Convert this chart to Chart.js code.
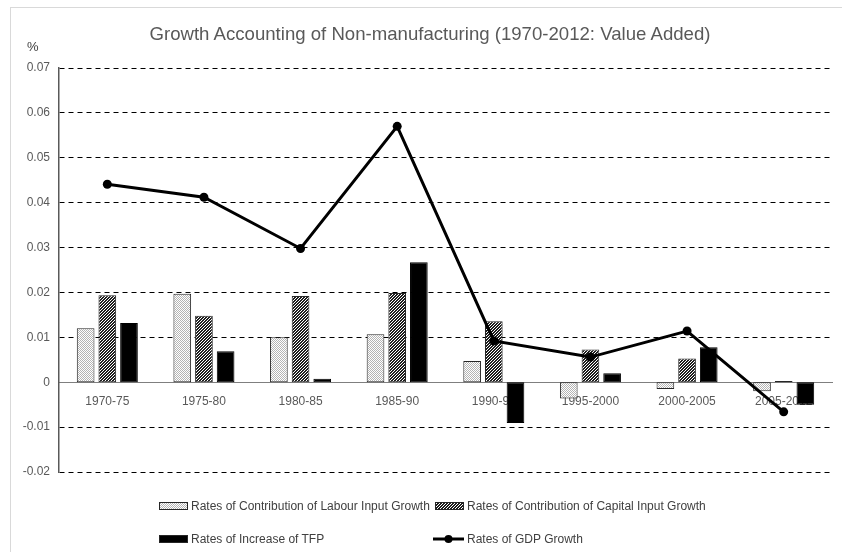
<!DOCTYPE html>
<html>
<head>
<meta charset="utf-8">
<script src="https://cdn.jsdelivr.net/npm/chart.js@4/dist/chart.umd.min.js"></script>
<style>
  html, body { margin: 0; padding: 0; background: #fff; }
  #wrap { position: relative; width: 842px; height: 552px; overflow: hidden; font-family: "Liberation Sans", Arial, sans-serif; }
  #frame { position: absolute; left: 10px; top: 7px; width: 900px; height: 600px; border-top: 1px solid #d9d9d9; border-left: 1px solid #d9d9d9; }
  #title { position: absolute; left: 0; width: 860px; top: 23px; text-align: center; font-size: 18.6px; color: #595959; }
  #unit { position: absolute; left: 27px; top: 39px; font-size: 13px; color: #404040; }
  .leg { position: absolute; font-size: 12px; color: #404040; white-space: nowrap; display: flex; align-items: center; }
  .leg canvas { margin-right: 3px; }
</style>
</head>
<body>
<div id="wrap">
  <div id="frame"></div>
  <canvas id="chart" width="842" height="552"></canvas>
  <div id="title">Growth Accounting of Non-manufacturing (1970-2012: Value Added)</div>
  <div id="unit">%</div>
  <div class="leg" style="left:159px; top:499px;"><canvas id="swLabour" width="29" height="8"></canvas>Rates of Contribution of Labour Input Growth</div>
  <div class="leg" style="left:435px; top:499px;"><canvas id="swCapital" width="29" height="8"></canvas>Rates of Contribution of Capital Input Growth</div>
  <div class="leg" style="left:159px; top:532px;"><canvas id="swTfp" width="29" height="8"></canvas>Rates of Increase of TFP</div>
  <div class="leg" style="left:433px; top:532px;"><canvas id="swGdp" width="31" height="10"></canvas>Rates of GDP Growth</div>
</div>
<script>
const periods = ['1970-75', '1975-80', '1980-85', '1985-90', '1990-95', '1995-2000', '2000-2005', '2005-2012'];
const labourGrowth = [0.0120, 0.0197, 0.0100, 0.0107, 0.0047, -0.0036, -0.0015, -0.0020];
const capitalGrowth = [0.0194, 0.0148, 0.0192, 0.0199, 0.0136, 0.0073, 0.0053, 0.0003];
const tfpGrowth = [0.0132, 0.0069, 0.0008, 0.0267, -0.0091, 0.0020, 0.0078, -0.0050];
const gdpGrowth = [0.0441, 0.0412, 0.0298, 0.0570, 0.0092, 0.0056, 0.0114, -0.0066];

// small tiles for the Excel-like fills
function makeTile(kind) {
  const c = document.createElement('canvas');
  const n = kind === 'dots' ? 2 : 3;
  c.width = n; c.height = n;
  const g = c.getContext('2d');
  g.fillStyle = '#fff';
  g.fillRect(0, 0, n, n);
  if (kind === 'dots') {
    g.fillStyle = '#b4b4b4';
    g.fillRect(0, 0, 1, 1);
    g.fillRect(1, 1, 1, 1);
  } else {
    g.fillStyle = '#1e1e1e';
    for (let x = 0; x < n; x++) {
      for (let y = 0; y < n; y++) {
        if ((x + y) % 3 !== 2) g.fillRect(x, y, 1, 1);
      }
    }
  }
  return c;
}

const ctx = document.getElementById('chart').getContext('2d');
const dotFill = ctx.createPattern(makeTile('dots'), 'repeat');
const hatchFill = ctx.createPattern(makeTile('hatch'), 'repeat');

function swatch(id, fill) {
  const c = document.getElementById(id);
  const g = c.getContext('2d');
  g.fillStyle = fill === 'black' ? '#000' : g.createPattern(makeTile(fill), 'repeat');
  g.fillRect(0, 0, c.width, c.height);
  g.strokeStyle = '#262626';
  g.lineWidth = 1;
  g.strokeRect(0.5, 0.5, c.width - 1, c.height - 1);
}
swatch('swLabour', 'dots');
swatch('swCapital', 'hatch');
swatch('swTfp', 'black');
(function () {
  const c = document.getElementById('swGdp');
  const g = c.getContext('2d');
  g.strokeStyle = '#000';
  g.lineWidth = 3;
  g.beginPath(); g.moveTo(0, 5); g.lineTo(31, 5); g.stroke();
  g.fillStyle = '#000';
  g.beginPath(); g.arc(15.5, 5, 4, 0, Math.PI * 2); g.fill();
})();

const barCommon = {
  type: 'bar',
  borderWidth: 1,
  borderColor: '#262626',
  borderSkipped: false,
  categoryPercentage: 0.673,
  barPercentage: 0.815,
  order: 1
};

new Chart(ctx, {
  data: {
    labels: periods,
    datasets: [
      {
        type: 'line',
        label: 'Rates of GDP Growth',
        data: gdpGrowth,
        borderColor: '#000',
        backgroundColor: '#000',
        borderWidth: 3,
        pointRadius: 4.5,
        pointBackgroundColor: '#000',
        pointBorderWidth: 0,
        tension: 0,
        order: 0
      },
      { ...barCommon, label: 'Rates of Contribution of Labour Input Growth', data: labourGrowth, backgroundColor: dotFill },
      { ...barCommon, label: 'Rates of Contribution of Capital Input Growth', data: capitalGrowth, backgroundColor: hatchFill },
      { ...barCommon, label: 'Rates of Increase of TFP', data: tfpGrowth, backgroundColor: '#000', borderColor: '#000' }
    ]
  },
  options: {
    responsive: false,
    animation: false,
    layout: { padding: { left: 0, top: 68, right: 10, bottom: 80 } },
    plugins: {
      legend: { display: false },
      tooltip: { enabled: false }
    },
    scales: {
      x: {
        position: { y: 0 },
        z: 1,
        grid: { display: false, drawTicks: false },
        border: { display: true, color: '#7f7f7f', width: 1 },
        ticks: {
          padding: 12,
          color: '#595959',
          font: { family: 'Liberation Sans', size: 12 },
          maxRotation: 0,
          autoSkip: false
        }
      },
      y: {
        min: -0.02,
        max: 0.07,
        afterFit: scale => { scale.width = 59; },
        grid: {
          drawTicks: false,
          color: c => (c.tick && Math.abs(c.tick.value) < 1e-9) ? 'rgba(0,0,0,0)' : '#000',
          lineWidth: 1
        },
        border: { display: true, color: '#595959', width: 1.5, dash: [5, 4] },
        ticks: {
          stepSize: 0.01,
          padding: 9,
          color: '#595959',
          font: { family: 'Liberation Sans', size: 12 },
          callback: v => String(Number(v.toFixed(2)))
        }
      }
    }
  }
});
</script>
</body>
</html>
